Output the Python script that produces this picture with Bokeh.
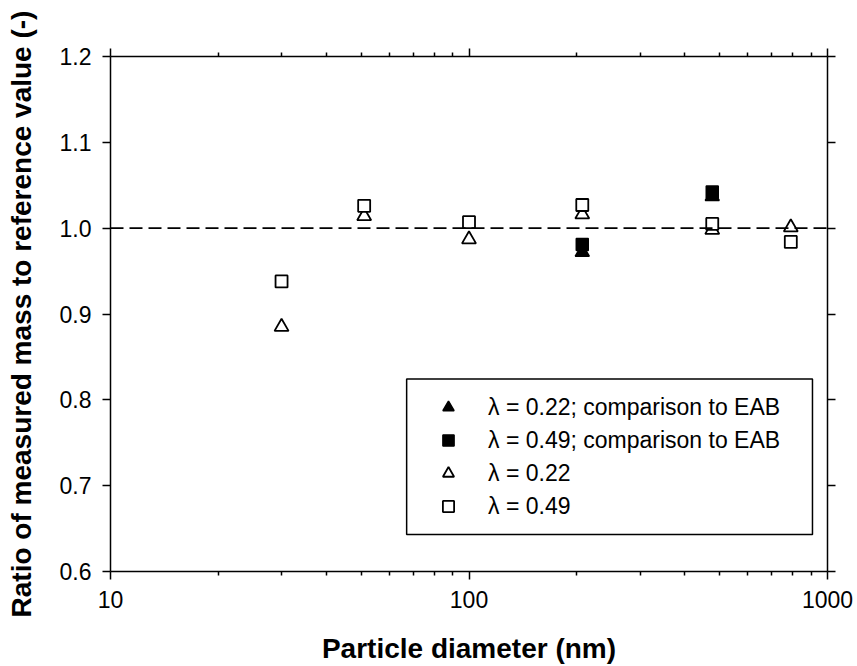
from bokeh.plotting import figure
from bokeh.models import (Range1d, LogAxis, LinearAxis, FixedTicker, Span, BoxAnnotation,
                          Legend, LegendItem)
from bokeh.embed import file_html
from bokeh.resources import INLINE

# ---- data ----
d_tri_eab = [207, 477]
r_tri_eab = [0.972, 1.037]
d_sq_eab = [207, 477]
r_sq_eab = [0.981, 1.042]
d_tri = [30, 51, 100, 207, 477, 790]
r_tri = [0.885, 1.014, 0.987, 1.016, 0.998, 1.001]
d_sq = [30, 51, 100, 207, 477, 790]
r_sq = [0.938, 1.026, 1.007, 1.027, 1.005, 0.984]

labels = ["λ = 0.22; comparison to EAB", "λ = 0.49; comparison to EAB", "λ = 0.22", "λ = 0.49"]
y_ticks = [0.6, 0.7, 0.8, 0.9, 1.0, 1.1, 1.2]
y_tick_labels = ["0.6", "0.7", "0.8", "0.9", "1.0", "1.1", "1.2"]
x_ticks = [10, 100, 1000]
x_tick_labels = ["10", "100", "1000"]
x_minor = [20, 30, 40, 50, 60, 70, 80, 90, 200, 300, 400, 500, 600, 700, 800, 900]
x_title = "Particle diameter (nm)"
y_title = "Ratio of measured mass to reference value (-)"

FONT = "Liberation Sans"

p = figure(width=857, height=666, x_axis_type="log",
           x_range=Range1d(10, 1000), y_range=Range1d(0.6, 1.2),
           output_backend="svg", toolbar_location=None,
           min_border_left=110, min_border_right=30, min_border_top=56, min_border_bottom=94)
p.outline_line_color = None
p.grid.visible = False
p.background_fill_color = "white"
p.border_fill_color = "white"

xt = FixedTicker(ticks=x_ticks, minor_ticks=x_minor)
yt = FixedTicker(ticks=y_ticks, minor_ticks=[])

def style(ax, show_labels):
    ax.axis_line_color = "black"
    ax.axis_line_width = 1.5
    ax.major_tick_line_color = "black"
    ax.major_tick_line_width = 1.5
    ax.minor_tick_line_color = "black"
    ax.minor_tick_line_width = 1.5
    ax.major_tick_in = 0
    ax.major_tick_out = 8
    ax.minor_tick_in = 0
    ax.minor_tick_out = 4
    ax.major_label_text_font = FONT
    ax.major_label_text_color = "black"
    if show_labels:
        ax.major_label_text_font_size = "23px"
    else:
        ax.major_label_text_font_size = "1px"
        ax.major_label_text_alpha = 0
    ax.axis_label_text_font = FONT
    ax.axis_label_text_font_style = "bold"
    ax.axis_label_text_color = "black"
    ax.axis_label_text_font_size = "28px"

xa = p.xaxis[0]
xa.ticker = xt
xa.major_label_overrides = {t: l for t, l in zip(x_ticks, x_tick_labels)}
style(xa, True)
xa.axis_label = x_title
xa.major_label_standoff = 11
xa.axis_label_standoff = 22

ya = p.yaxis[0]
ya.ticker = yt
ya.major_label_overrides = {t: l for t, l in zip(y_ticks, y_tick_labels)}
style(ya, True)
ya.axis_label = y_title
ya.major_label_standoff = 11
ya.axis_label_standoff = 20

top = LogAxis(ticker=xt)
style(top, False)
p.add_layout(top, "above")
right = LinearAxis(ticker=yt)
style(right, False)
p.add_layout(right, "right")

p.add_layout(Span(location=1.0, dimension="width", line_color="black",
                  line_width=1.6, line_dash="13 6"))

r1 = p.scatter(d_tri_eab, r_tri_eab, marker="triangle", size=14,
               fill_color="black", line_color="black", line_width=1.5)
r2 = p.scatter(d_sq_eab, r_sq_eab, marker="square", size=12,
               fill_color="black", line_color="black", line_width=1.5)
r3 = p.scatter(d_tri, r_tri, marker="triangle", size=14,
               fill_color="white", line_color="black", line_width=1.8)
r4 = p.scatter(d_sq, r_sq, marker="square", size=12,
               fill_color="white", line_color="black", line_width=1.8)

# legend frame
p.add_layout(BoxAnnotation(left=67, right=908, bottom=0.643, top=0.8244,
                           fill_color="white", fill_alpha=1.0,
                           line_color="black", line_alpha=1.0, line_width=1.5,
                           level="annotation"))

legend = Legend(items=[LegendItem(label=l, renderers=[r]) for l, r in zip(labels, [r1, r2, r3, r4])],
                location=(323, 51), padding=0, margin=0,
                border_line_color=None, background_fill_alpha=0,
                glyph_width=30, glyph_height=28, label_height=28,
                label_standoff=25, spacing=5,
                label_text_font=FONT, label_text_font_size="23px", label_text_color="black")
p.add_layout(legend, "center")

open("out.html", "w").write(file_html(p, INLINE))
